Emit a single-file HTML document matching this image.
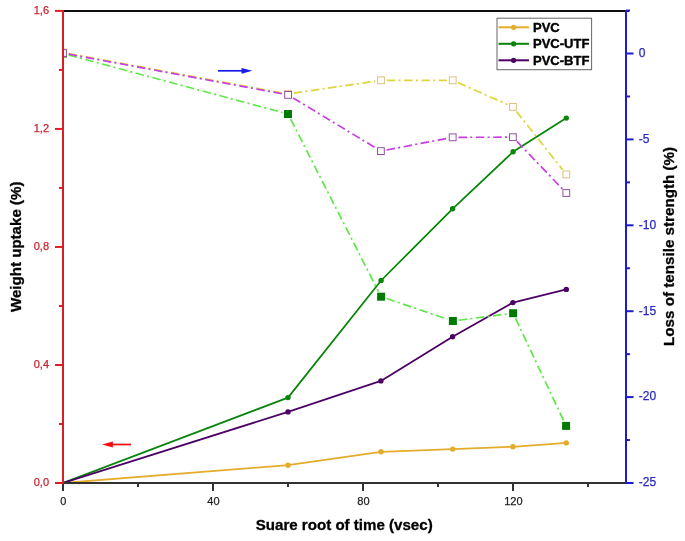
<!DOCTYPE html>
<html><head><meta charset="utf-8"><style>
html,body{margin:0;padding:0;background:#fff;width:685px;height:541px;overflow:hidden}
svg{display:block;will-change:transform}
text{font-family:"Liberation Sans",sans-serif}
.xl{font-size:11px;fill:#1e1e1e;text-anchor:middle;stroke:#1e1e1e;stroke-width:0.25px}
.ll{font-size:11px;fill:#c8222e;text-anchor:end;stroke:#c8222e;stroke-width:0.25px}
.rl{font-size:12px;fill:#2828c0;stroke:#2828c0;stroke-width:0.25px}
.lg{font-size:13px;font-weight:bold;fill:#000;stroke:#000;stroke-width:0.4px}
.tt{font-size:15.1px;font-weight:bold;fill:#000;stroke:#000;stroke-width:0.3px}
.tt2{font-size:15.2px;font-weight:bold;fill:#000;stroke:#000;stroke-width:0.3px}
</style></head><body>
<svg width="685" height="541" viewBox="0 0 685 541">
<defs><clipPath id="pc"><rect x="63" y="10.75" width="563.2" height="472.25"/></clipPath></defs>
<g clip-path="url(#pc)">
<path d="M63.00,483.00 L288.00,465.20 L381.00,451.80 L452.70,449.10 L512.90,446.80 L566.30,442.90" fill="none" stroke="#e3ac2c" stroke-width="1.75" stroke-linejoin="round"/>
<circle cx="288.00" cy="465.20" r="2.7" fill="#e3ac2c"/>
<circle cx="381.00" cy="451.80" r="2.7" fill="#e3ac2c"/>
<circle cx="452.70" cy="449.10" r="2.7" fill="#e3ac2c"/>
<circle cx="512.90" cy="446.80" r="2.7" fill="#e3ac2c"/>
<circle cx="566.30" cy="442.90" r="2.7" fill="#e3ac2c"/>
<path d="M63.00,483.00 L288.00,397.60 L381.10,280.50 L452.60,208.80 L513.10,151.80 L566.30,118.10" fill="none" stroke="#0a840a" stroke-width="1.75" stroke-linejoin="round"/>
<circle cx="288.00" cy="397.60" r="2.7" fill="#0a840a"/>
<circle cx="381.10" cy="280.50" r="2.7" fill="#0a840a"/>
<circle cx="452.60" cy="208.80" r="2.7" fill="#0a840a"/>
<circle cx="513.10" cy="151.80" r="2.7" fill="#0a840a"/>
<circle cx="566.30" cy="118.10" r="2.7" fill="#0a840a"/>
<path d="M63.00,483.00 L288.00,411.90 L380.90,380.90 L452.60,336.70 L512.90,302.60 L566.30,289.40" fill="none" stroke="#4b0064" stroke-width="1.75" stroke-linejoin="round"/>
<circle cx="288.00" cy="411.90" r="2.7" fill="#4b0064"/>
<circle cx="380.90" cy="380.90" r="2.7" fill="#4b0064"/>
<circle cx="452.60" cy="336.70" r="2.7" fill="#4b0064"/>
<circle cx="512.90" cy="302.60" r="2.7" fill="#4b0064"/>
<circle cx="566.30" cy="289.40" r="2.7" fill="#4b0064"/>
<path d="M68.60,55.01 L282.40,112.49" fill="none" stroke="#5fe84a" stroke-width="1.7" stroke-dasharray="8.5 3.2 2.1 3.55"/>
<path d="M290.63,119.17 L378.47,291.53" fill="none" stroke="#5fe84a" stroke-width="1.7" stroke-dasharray="8.5 3.2 2.1 3.55"/>
<path d="M386.59,298.56 L447.41,319.14" fill="none" stroke="#5fe84a" stroke-width="1.7" stroke-dasharray="8.5 3.2 2.1 3.55"/>
<path d="M458.65,320.25 L507.35,313.95" fill="none" stroke="#5fe84a" stroke-width="1.7" stroke-dasharray="8.5 3.2 2.1 3.55"/>
<path d="M515.57,318.45 L563.63,420.65" fill="none" stroke="#5fe84a" stroke-width="1.7" stroke-dasharray="8.5 3.2 2.1 3.55"/>
<path d="M68.70,53.55 L282.30,92.95" fill="none" stroke="#dbd63a" stroke-width="1.7" stroke-dasharray="8.5 3.2 2.1 3.55"/>
<path d="M293.74,93.15 L375.26,81.15" fill="none" stroke="#dbd63a" stroke-width="1.7" stroke-dasharray="8.5 3.2 2.1 3.55"/>
<path d="M386.80,80.30 L446.90,80.30" fill="none" stroke="#dbd63a" stroke-width="1.7" stroke-dasharray="8.5 3.2 2.1 3.55"/>
<path d="M458.01,82.64 L507.59,104.56" fill="none" stroke="#dbd63a" stroke-width="1.7" stroke-dasharray="8.5 3.2 2.1 3.55"/>
<path d="M516.50,111.45 L562.70,169.85" fill="none" stroke="#dbd63a" stroke-width="1.7" stroke-dasharray="8.5 3.2 2.1 3.55"/>
<path d="M68.70,54.16 L282.40,93.84" fill="none" stroke="#c83ee0" stroke-width="1.7" stroke-dasharray="8.5 3.2 2.1 3.55"/>
<path d="M293.06,97.90 L375.94,148.10" fill="none" stroke="#c83ee0" stroke-width="1.7" stroke-dasharray="8.5 3.2 2.1 3.55"/>
<path d="M386.60,150.01 L447.00,138.39" fill="none" stroke="#c83ee0" stroke-width="1.7" stroke-dasharray="8.5 3.2 2.1 3.55"/>
<path d="M458.50,137.29 L507.10,137.21" fill="none" stroke="#c83ee0" stroke-width="1.7" stroke-dasharray="8.5 3.2 2.1 3.55"/>
<path d="M516.91,141.39 L562.29,188.81" fill="none" stroke="#c83ee0" stroke-width="1.7" stroke-dasharray="8.5 3.2 2.1 3.55"/>
<rect x="59.00" y="49.50" width="8" height="8" fill="#007a00"/>
<rect x="284.00" y="110.00" width="8" height="8" fill="#007a00"/>
<rect x="377.10" y="292.70" width="8" height="8" fill="#007a00"/>
<rect x="448.90" y="317.00" width="8" height="8" fill="#007a00"/>
<rect x="509.10" y="309.20" width="8" height="8" fill="#007a00"/>
<rect x="562.10" y="421.90" width="8" height="8" fill="#007a00"/>
<rect x="59.60" y="49.10" width="6.8" height="6.8" fill="#fff" stroke="#dcc07e" stroke-width="1"/>
<rect x="284.60" y="90.60" width="6.8" height="6.8" fill="#fff" stroke="#dcc07e" stroke-width="1"/>
<rect x="377.60" y="76.90" width="6.8" height="6.8" fill="#fff" stroke="#dcc07e" stroke-width="1"/>
<rect x="449.30" y="76.90" width="6.8" height="6.8" fill="#fff" stroke="#dcc07e" stroke-width="1"/>
<rect x="509.50" y="103.50" width="6.8" height="6.8" fill="#fff" stroke="#dcc07e" stroke-width="1"/>
<rect x="562.90" y="171.00" width="6.8" height="6.8" fill="#fff" stroke="#dcc07e" stroke-width="1"/>
<rect x="59.60" y="49.70" width="6.8" height="6.8" fill="#fff" stroke="#9250a8" stroke-width="1"/>
<rect x="284.70" y="91.50" width="6.8" height="6.8" fill="#fff" stroke="#9250a8" stroke-width="1"/>
<rect x="377.50" y="147.70" width="6.8" height="6.8" fill="#fff" stroke="#9250a8" stroke-width="1"/>
<rect x="449.30" y="133.90" width="6.8" height="6.8" fill="#fff" stroke="#9250a8" stroke-width="1"/>
<rect x="509.50" y="133.80" width="6.8" height="6.8" fill="#fff" stroke="#9250a8" stroke-width="1"/>
<rect x="562.90" y="189.60" width="6.8" height="6.8" fill="#fff" stroke="#9250a8" stroke-width="1"/>
</g>
<line x1="218" y1="70.8" x2="243" y2="70.8" stroke="#1a1ae6" stroke-width="1.7"/>
<path d="M241.5,67.9 L252.3,70.8 L241.5,73.7 Z" fill="#1a1ae6"/>
<line x1="111" y1="444.5" x2="131" y2="444.5" stroke="#f20c0c" stroke-width="1.7"/>
<path d="M112.9,441.6 L102.1,444.5 L112.9,447.4 Z" fill="#f20c0c"/>
<line x1="62" y1="10.9" x2="629" y2="10.9" stroke="#0e0e0e" stroke-width="2"/>
<line x1="62" y1="483.0" x2="627" y2="483.0" stroke="#323232" stroke-width="2"/>
<line x1="63.00" y1="483.0" x2="63.00" y2="491" stroke="#323232" stroke-width="2"/>
<text x="63.40" y="505" class="xl">0</text>
<line x1="213.00" y1="483.0" x2="213.00" y2="491" stroke="#323232" stroke-width="2"/>
<text x="213.40" y="505" class="xl">40</text>
<line x1="363.00" y1="483.0" x2="363.00" y2="491" stroke="#323232" stroke-width="2"/>
<text x="363.40" y="505" class="xl">80</text>
<line x1="513.00" y1="483.0" x2="513.00" y2="491" stroke="#323232" stroke-width="2"/>
<text x="513.40" y="505" class="xl">120</text>
<line x1="138.00" y1="483.0" x2="138.00" y2="487" stroke="#323232" stroke-width="2"/>
<line x1="288.00" y1="483.0" x2="288.00" y2="487" stroke="#323232" stroke-width="2"/>
<line x1="438.00" y1="483.0" x2="438.00" y2="487" stroke="#323232" stroke-width="2"/>
<line x1="588.00" y1="483.0" x2="588.00" y2="487" stroke="#323232" stroke-width="2"/>
<line x1="63" y1="9.9" x2="63" y2="484.0" stroke="#dc1c26" stroke-width="2"/>
<line x1="55" y1="483.00" x2="63" y2="483.00" stroke="#dc1c26" stroke-width="2"/>
<text x="49" y="486.00" class="ll">0,0</text>
<line x1="59" y1="423.99" x2="63" y2="423.99" stroke="#dc1c26" stroke-width="2"/>
<line x1="55" y1="364.98" x2="63" y2="364.98" stroke="#dc1c26" stroke-width="2"/>
<text x="49" y="367.98" class="ll">0,4</text>
<line x1="59" y1="305.96" x2="63" y2="305.96" stroke="#dc1c26" stroke-width="2"/>
<line x1="55" y1="246.95" x2="63" y2="246.95" stroke="#dc1c26" stroke-width="2"/>
<text x="49" y="249.95" class="ll">0,8</text>
<line x1="59" y1="187.94" x2="63" y2="187.94" stroke="#dc1c26" stroke-width="2"/>
<line x1="55" y1="128.92" x2="63" y2="128.92" stroke="#dc1c26" stroke-width="2"/>
<text x="49" y="131.92" class="ll">1,2</text>
<line x1="59" y1="69.91" x2="63" y2="69.91" stroke="#dc1c26" stroke-width="2"/>
<line x1="55" y1="10.90" x2="63" y2="10.90" stroke="#dc1c26" stroke-width="2"/>
<text x="49" y="13.90" class="ll">1,6</text>
<line x1="626.0" y1="9.9" x2="626.0" y2="484.0" stroke="#1c1cd0" stroke-width="2"/>
<line x1="626.0" y1="53.50" x2="633.50" y2="53.50" stroke="#1c1cd0" stroke-width="2"/>
<text x="638.8" y="56.80" class="rl">0</text>
<line x1="626.0" y1="139.40" x2="633.50" y2="139.40" stroke="#1c1cd0" stroke-width="2"/>
<text x="638.8" y="142.70" class="rl">-5</text>
<line x1="626.0" y1="225.30" x2="633.50" y2="225.30" stroke="#1c1cd0" stroke-width="2"/>
<text x="638.8" y="228.60" class="rl">-10</text>
<line x1="626.0" y1="311.20" x2="633.50" y2="311.20" stroke="#1c1cd0" stroke-width="2"/>
<text x="638.8" y="314.50" class="rl">-15</text>
<line x1="626.0" y1="397.10" x2="633.50" y2="397.10" stroke="#1c1cd0" stroke-width="2"/>
<text x="638.8" y="400.40" class="rl">-20</text>
<line x1="626.0" y1="483.00" x2="633.50" y2="483.00" stroke="#1c1cd0" stroke-width="2"/>
<text x="638.8" y="486.30" class="rl">-25</text>
<line x1="626.0" y1="10.55" x2="630.00" y2="10.55" stroke="#1c1cd0" stroke-width="2"/>
<line x1="626.0" y1="96.45" x2="630.00" y2="96.45" stroke="#1c1cd0" stroke-width="2"/>
<line x1="626.0" y1="182.35" x2="630.00" y2="182.35" stroke="#1c1cd0" stroke-width="2"/>
<line x1="626.0" y1="268.25" x2="630.00" y2="268.25" stroke="#1c1cd0" stroke-width="2"/>
<line x1="626.0" y1="354.15" x2="630.00" y2="354.15" stroke="#1c1cd0" stroke-width="2"/>
<line x1="626.0" y1="440.05" x2="630.00" y2="440.05" stroke="#1c1cd0" stroke-width="2"/>
<rect x="497" y="18.2" width="94.6" height="51.5" fill="#fff" stroke="#666" stroke-width="1"/>
<line x1="498.5" y1="27.30" x2="529" y2="27.30" stroke="#e3ac2c" stroke-width="2"/>
<circle cx="513.6" cy="27.30" r="2.6" fill="#e3ac2c"/>
<text x="533" y="31.70" class="lg">PVC</text>
<line x1="498.5" y1="43.80" x2="529" y2="43.80" stroke="#0a840a" stroke-width="2"/>
<circle cx="513.6" cy="43.80" r="2.6" fill="#0a840a"/>
<text x="533" y="48.20" class="lg">PVC-UTF</text>
<line x1="498.5" y1="60.30" x2="529" y2="60.30" stroke="#4b0064" stroke-width="2"/>
<circle cx="513.6" cy="60.30" r="2.6" fill="#4b0064"/>
<text x="533" y="64.70" class="lg">PVC-BTF</text>
<text x="344.2" y="530" class="tt" text-anchor="middle">Suare root of time (vsec)</text>
<text transform="translate(20.5,246.8) rotate(-90)" class="tt" text-anchor="middle">Weight uptake (%)</text>
<text transform="translate(674.2,246.4) rotate(-90)" class="tt2" text-anchor="middle">Loss of tensile strength (%)</text>
</svg>
</body></html>
